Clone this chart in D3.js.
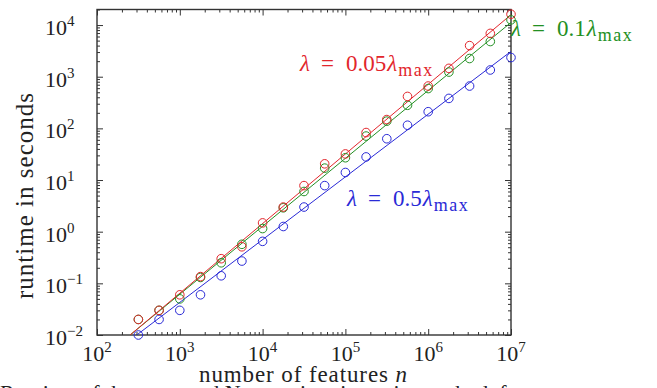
<!DOCTYPE html>
<html>
<head>
<meta charset="utf-8">
<script src="https://cdn.jsdelivr.net/npm/d3@7"></script>
<style>
  html, body { margin: 0; padding: 0; background: #fff; }
  svg { display: block; }
  text { font-family: "Liberation Serif", "DejaVu Serif", serif; fill: #222; }
</style>
</head>
<body>
<svg id="chart" width="657" height="388"></svg>
<script>
// number of features n
const features = [316, 562, 1000, 1778, 3162, 5623, 10000, 17783, 31623, 56234,
  100000, 177828, 316228, 562341, 1000000, 1778279, 3162278, 5623413, 10000000];

// runtime in seconds, one list per lambda
const runtime005 = [0.02, 0.03, 0.06, 0.135, 0.30, 0.51, 1.48, 3.0, 7.8, 20.6,
  32, 83, 148, 415, 660, 1450, 4000, 6900, 16200];
const runtime01 = [0.02, 0.03, 0.05, 0.13, 0.25, 0.57, 1.15, 2.9, 6.0, 17,
  27, 71, 138, 280, 590, 1230, 2250, 4800, 12600];
const runtime05 = [0.01, 0.02, 0.03, 0.06, 0.14, 0.27, 0.65, 1.26, 3.0, 7.8,
  14, 28, 63, 115, 210, 380, 660, 1350, 2350];

// fitted power-law lines, as [n, runtime] end points
const fit005 = [[251, 0.01], [1e7, 15850]];
const fit01 = [[251, 0.01], [1e7, 11220]];
const fit05 = [[302, 0.01], [1e7, 3090]];

const xTickExps = [2, 3, 4, 5, 6, 7];
const yTickExps = [-2, -1, 0, 1, 2, 3, 4];

const series = [
  {name: "0.5", values: runtime05, fit: fit05, color: "#2a2ad6"},
  {name: "0.1", values: runtime01, fit: fit01, color: "#239023"},
  {name: "0.05", values: runtime005, fit: fit005, color: "#e2262c"}
];

const svg = d3.select("#chart");
const plotL = 97, plotR = 511, plotT = 9.5, plotB = 335;

const x = d3.scaleLog().domain([1e2, 1e7]).range([plotL, plotR]);
const y = d3.scaleLog().domain([1e-2, 2e4]).range([plotB, plotT]);

const axisColor = "#333";

// ticks (inward on all four sides)
const isPow = v => Math.abs(Math.log10(v) - Math.round(Math.log10(v))) < 1e-9;
const xMajor = x.ticks().filter(isPow), xMinor = x.ticks().filter(v => !isPow(v));
const yMajor = y.ticks().filter(isPow), yMinor = y.ticks().filter(v => !isPow(v));

function addAxis(axis, tx, ty) {
  const g = svg.append("g").attr("transform", `translate(${tx},${ty})`).call(axis);
  g.select(".domain").remove();
  g.selectAll("line").attr("stroke", axisColor).attr("stroke-width", 1);
}
[[xMajor, 6], [xMinor, 3]].forEach(([vals, len]) => {
  addAxis(d3.axisBottom(x).tickValues(vals).tickSize(-len).tickFormat(""), 0, plotB);
  addAxis(d3.axisTop(x).tickValues(vals).tickSize(-len).tickFormat(""), 0, plotT);
});
[[yMajor, 6], [yMinor, 3]].forEach(([vals, len]) => {
  addAxis(d3.axisLeft(y).tickValues(vals).tickSize(-len).tickFormat(""), plotL, 0);
  addAxis(d3.axisRight(y).tickValues(vals).tickSize(-len).tickFormat(""), plotR, 0);
});

svg.append("rect")
  .attr("x", plotL).attr("y", plotT)
  .attr("width", plotR - plotL).attr("height", plotB - plotT)
  .attr("fill", "none").attr("stroke", axisColor).attr("stroke-width", 1.4);

// tick labels with superscript exponents
function powLabel(sel, e) {
  sel.append("tspan").text("10");
  sel.append("tspan").attr("font-size", 15).attr("dy", -9)
    .text(String(e).replace("-", "\u2212"));
}
svg.append("g").selectAll("text").data(xTickExps).join("text")
  .attr("x", d => x(Math.pow(10, d)))
  .attr("y", 361)
  .attr("text-anchor", "middle")
  .attr("font-size", 22)
  .each(function(d) { powLabel(d3.select(this), d); });

svg.append("g").selectAll("text").data(yTickExps).join("text")
  .attr("x", 45)
  .attr("y", d => y(Math.pow(10, d)) + 10)
  .attr("font-size", 22)
  .each(function(d) { powLabel(d3.select(this), d); });

// axis titles
const xt = svg.append("text")
  .attr("x", 199).attr("y", 382)
  .attr("font-size", 23)
  .attr("textLength", 208).attr("lengthAdjust", "spacing");
xt.append("tspan").text("number of features ");
xt.append("tspan").attr("font-style", "italic").text("n");

svg.append("text")
  .attr("transform", "translate(33,299) rotate(-90)")
  .attr("font-size", 25)
  .attr("textLength", 206).attr("lengthAdjust", "spacing")
  .text("runtime in seconds");

// caption, cut off at the bottom edge
svg.append("text")
  .attr("x", 0).attr("y", 400).attr("font-size", 22)
  .text("Runtime of the truncated Newton interior-point method, for a sparse");

// fitted lines, clipped to the plot box
svg.append("clipPath").attr("id", "plot-clip")
  .append("rect")
  .attr("x", plotL).attr("y", plotT)
  .attr("width", plotR - plotL).attr("height", plotB - plotT);

const line = d3.line().x(d => x(d[0])).y(d => y(d[1]));

svg.append("g").attr("clip-path", "url(#plot-clip)")
  .selectAll("path").data(series).join("path")
  .attr("d", d => line(d.fit))
  .attr("fill", "none")
  .attr("stroke", d => d.color)
  .attr("stroke-width", 1);

// measured points
series.forEach(s => {
  svg.append("g").selectAll("circle").data(s.values).join("circle")
    .attr("cx", (d, i) => x(features[i]))
    .attr("cy", d => y(d))
    .attr("r", 4.3)
    .attr("fill", "none")
    .attr("stroke", s.color)
    .attr("stroke-width", 1);
});

// series labels, spaced like TeX math
const labels = [
  {name: "0.05", color: "#e2262c", lx: 300, ly: 71},
  {name: "0.1", color: "#239023", lx: 511, ly: 36},
  {name: "0.5", color: "#2a2ad6", lx: 347, ly: 206}
];
labels.forEach(l => {
  const t = svg.append("text")
    .attr("y", l.ly)
    .attr("font-size", 23)
    .attr("fill", l.color);
  t.append("tspan").attr("x", l.lx).attr("font-style", "italic").attr("fill", l.color).text("\u03bb");
  t.append("tspan").attr("x", l.lx + 21).attr("fill", l.color).text("=");
  t.append("tspan").attr("x", l.lx + 46).attr("fill", l.color).text(l.name);
  t.append("tspan").attr("dx", 1).attr("font-style", "italic").attr("fill", l.color).text("\u03bb");
  t.append("tspan").attr("dx", 1).attr("dy", 5).attr("fill", l.color)
    .attr("font-size", 18).attr("letter-spacing", 1.5).text("max");
});
</script>
</body>
</html>
